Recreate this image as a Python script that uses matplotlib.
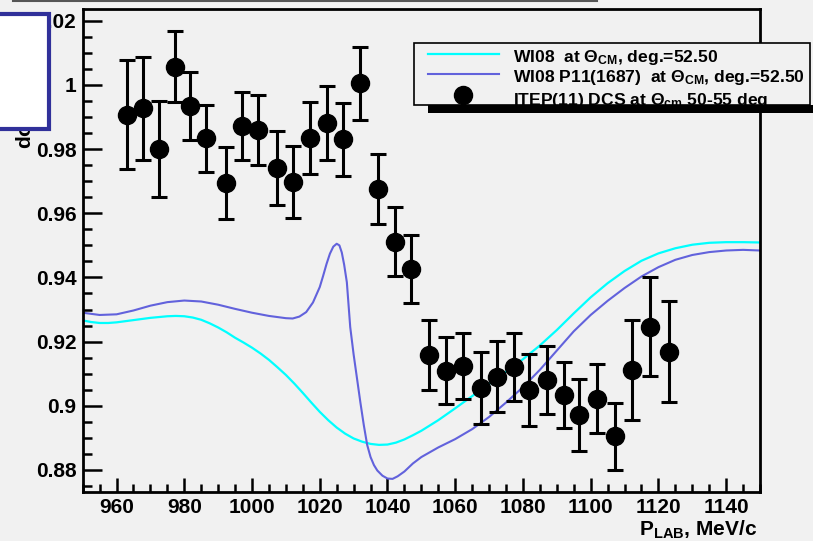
import matplotlib
matplotlib.use("Agg")
import matplotlib.pyplot as plt
from matplotlib.patches import Rectangle
from matplotlib.lines import Line2D
from matplotlib.ticker import MultipleLocator, FormatStrFormatter

plt.rcParams['font.family'] = ['Liberation Sans', 'DejaVu Sans']
plt.rcParams['font.weight'] = 'bold'
plt.rcParams['mathtext.fontset'] = 'custom'
plt.rcParams['mathtext.rm'] = 'Liberation Sans:bold'
plt.rcParams['mathtext.it'] = 'Liberation Sans:bold'
plt.rcParams['mathtext.bf'] = 'Liberation Sans:bold'

BG = '#f1f1f1'

# ITEP(11) differential cross section, 50-55 deg
p_lab = [963.2, 967.8, 972.4, 977.2, 981.8, 986.4, 992.2, 997.0, 1001.7, 1007.3,
         1012.1, 1017.0, 1022.1, 1026.9, 1031.9, 1037.1, 1042.1, 1046.9, 1052.4,
         1057.3, 1062.2, 1067.5, 1072.4, 1077.3, 1081.9, 1087.1, 1092.0, 1096.7,
         1101.9, 1107.3, 1112.2, 1117.4, 1123.0]
dcs = [0.9907, 0.9927, 0.9800, 1.0057, 0.9935, 0.9834, 0.9694, 0.9872, 0.9860,
       0.9742, 0.9697, 0.9834, 0.9881, 0.9831, 1.0005, 0.9676, 0.9512, 0.9426,
       0.9159, 0.9109, 0.9125, 0.9054, 0.9091, 0.9121, 0.9048, 0.9081, 0.9034,
       0.8970, 0.9022, 0.8905, 0.9112, 0.9247, 0.9169]
dcs_err = [0.0170, 0.0160, 0.0150, 0.0111, 0.0106, 0.0105, 0.0112, 0.0107, 0.0110,
           0.0115, 0.0112, 0.0112, 0.0116, 0.0114, 0.0114, 0.0110, 0.0107, 0.0105,
           0.0109, 0.0105, 0.0103, 0.0112, 0.0110, 0.0106, 0.0112, 0.0106, 0.0103,
           0.0112, 0.0107, 0.0105, 0.0155, 0.0154, 0.0157]

# WI08 solution at 52.5 deg
wi08_p = [950, 952.5, 955, 957.5, 960, 965, 970, 975, 977.5, 980, 982.5, 985, 987.5,
          990, 992.5, 995, 997.5, 1000, 1002.5, 1005, 1007.5, 1010, 1012.5, 1015,
          1017.5, 1020, 1022.5, 1025, 1027.5, 1030, 1032.5, 1035, 1037.5, 1040,
          1042.5, 1045, 1047.5, 1050, 1055, 1060, 1065, 1070, 1075, 1080, 1085,
          1090, 1095, 1100, 1105, 1110, 1115, 1120, 1125, 1130, 1135, 1140, 1145, 1150]
wi08_dcs = [0.9266, 0.9261, 0.9258, 0.9258, 0.9260, 0.9267, 0.9274, 0.9279, 0.9280,
            0.9279, 0.9275, 0.9268, 0.9257, 0.9244, 0.9229, 0.9212, 0.9197, 0.9181,
            0.9163, 0.9143, 0.9120, 0.9096, 0.9069, 0.9040, 0.9010, 0.8981, 0.8955,
            0.8932, 0.8913, 0.8898, 0.8888, 0.8881, 0.8878, 0.8879, 0.8885, 0.8895,
            0.8908, 0.8922, 0.8955, 0.8992, 0.9030, 0.9068, 0.9106, 0.9145, 0.9188,
            0.9236, 0.9288, 0.9338, 0.9382, 0.9420, 0.9452, 0.9475, 0.9491, 0.9502,
            0.9508, 0.9510, 0.9510, 0.9509]

# WI08 with P11(1687) added
p11_p = [950, 955, 960, 965, 970, 975, 980, 985, 990, 995, 1000, 1005, 1010, 1012,
         1014, 1016, 1018, 1020, 1021, 1022, 1023, 1024, 1025, 1025.8, 1026.5, 1027.2,
         1028, 1029, 1030, 1031, 1032, 1033, 1034, 1035, 1036, 1037, 1038.5, 1040,
         1041.5, 1043, 1045, 1047.5, 1050, 1055, 1060, 1065, 1070, 1075, 1080, 1085,
         1090, 1095, 1100, 1105, 1110, 1115, 1120, 1125, 1130, 1135, 1140, 1145, 1150]
p11_dcs = [0.9290, 0.9283, 0.9285, 0.9297, 0.9312, 0.9323, 0.9328, 0.9325, 0.9315,
           0.9302, 0.9290, 0.9280, 0.9273, 0.9272, 0.9278, 0.9292, 0.9322, 0.9370,
           0.9405, 0.9442, 0.9474, 0.9496, 0.9505, 0.9500, 0.9478, 0.9440, 0.9385,
           0.9245, 0.9160, 0.9085, 0.9010, 0.8940, 0.8878, 0.8840, 0.8815, 0.8798,
           0.8782, 0.8773, 0.8772, 0.8780, 0.8795, 0.8820, 0.8840, 0.8870, 0.8896,
           0.8927, 0.8965, 0.9010, 0.9058, 0.9112, 0.9172, 0.9232, 0.9283, 0.9327,
           0.9367, 0.9403, 0.9432, 0.9455, 0.9470, 0.9479, 0.9484, 0.9486, 0.9484]

W, H = 813, 541


def fx(x):
    return x / W


def fy(y):
    return 1 - y / H


fig = plt.figure(figsize=(W / 100, H / 100), dpi=100, facecolor=BG)
ax = fig.add_axes([fx(82.7), fy(491.7), fx(760) - fx(82.7), fy(9.3) - fy(491.7)])
ax.set_facecolor(BG)

ax.plot(wi08_p, wi08_dcs, color='#00ffff', lw=1.6, zorder=2)
ax.plot(p11_p, p11_dcs, color='#6262dc', lw=1.5, zorder=2)
ax.errorbar(p_lab, dcs, yerr=dcs_err, fmt='o', color='black', ms=13,
            elinewidth=2.2, capsize=5.5, capthick=2.2, zorder=3)

ax.set_xlim(950, 1150)
ax.set_ylim(0.8732, 1.0236)
ax.xaxis.set_major_locator(MultipleLocator(20))
ax.xaxis.set_minor_locator(MultipleLocator(5))
ax.yaxis.set_major_locator(MultipleLocator(0.02))
ax.yaxis.set_minor_locator(MultipleLocator(0.005))
ax.xaxis.set_major_formatter(FormatStrFormatter('%g'))
ax.yaxis.set_major_formatter(FormatStrFormatter('%g'))
ax.tick_params(axis='both', which='both', direction='in', width=1.8, labelsize=15,
               top=False, right=False)
ax.tick_params(axis='x', which='major', length=10.3, pad=4.5)
ax.tick_params(axis='x', which='minor', length=6)
ax.tick_params(axis='y', which='major', length=13.7, pad=4.5)
ax.tick_params(axis='y', which='minor', length=6.5)
for s in ax.spines.values():
    s.set_linewidth(2)

fig.text(fx(757), fy(536), r'P$_{LAB}$, MeV/c', ha='right', va='baseline', fontsize=15)
fig.text(fx(25), fy(149), r'd$\sigma$/d$\Omega$, mb/sr', rotation=90,
         ha='center', va='bottom', fontsize=15, zorder=1)

# white box with blue frame in the top-left corner
fig.add_artist(Rectangle((fx(-10), fy(129)), fx(58.5), fy(14) - fy(129),
                         transform=fig.transFigure, facecolor='white',
                         edgecolor='#30309a', lw=3, zorder=10))
fig.add_artist(Line2D([fx(13), fx(597)], [fy(1), fy(1)], transform=fig.transFigure,
                      color='#555555', lw=1.5, zorder=10))

# legend
fig.add_artist(Rectangle((fx(414), fy(105)), fx(396), fy(43) - fy(105),
                         transform=fig.transFigure, facecolor=BG,
                         edgecolor='black', lw=1.2, zorder=5))
fig.add_artist(Rectangle((fx(428), fy(113)), fx(400), fy(105) - fy(113),
                         transform=fig.transFigure, facecolor='black',
                         edgecolor='none', zorder=7))
fig.add_artist(Line2D([fx(428), fx(499)], [fy(54), fy(54)], transform=fig.transFigure,
                      color='#00ffff', lw=1.6, zorder=6))
fig.add_artist(Line2D([fx(428), fx(499)], [fy(74), fy(74)], transform=fig.transFigure,
                      color='#6262dc', lw=1.5, zorder=6))
fig.add_artist(Line2D([fx(463)], [fy(95)], transform=fig.transFigure, marker='o',
                      ms=13, color='black', zorder=6))
leg_text = [r'WI08  at Θ$_{CM}$, deg.=52.50',
            r'WI08 P11(1687)  at Θ$_{CM}$, deg.=52.50',
            r'ITEP(11) DCS at Θ$_{cm}$ 50-55 deg']
for txt, yb in zip(leg_text, [61.7, 82.3, 105.3]):
    fig.text(fx(513), fy(yb), txt, ha='left', va='baseline', fontsize=12.6, zorder=6)

fig.savefig('out.png', dpi=100, facecolor=BG)
